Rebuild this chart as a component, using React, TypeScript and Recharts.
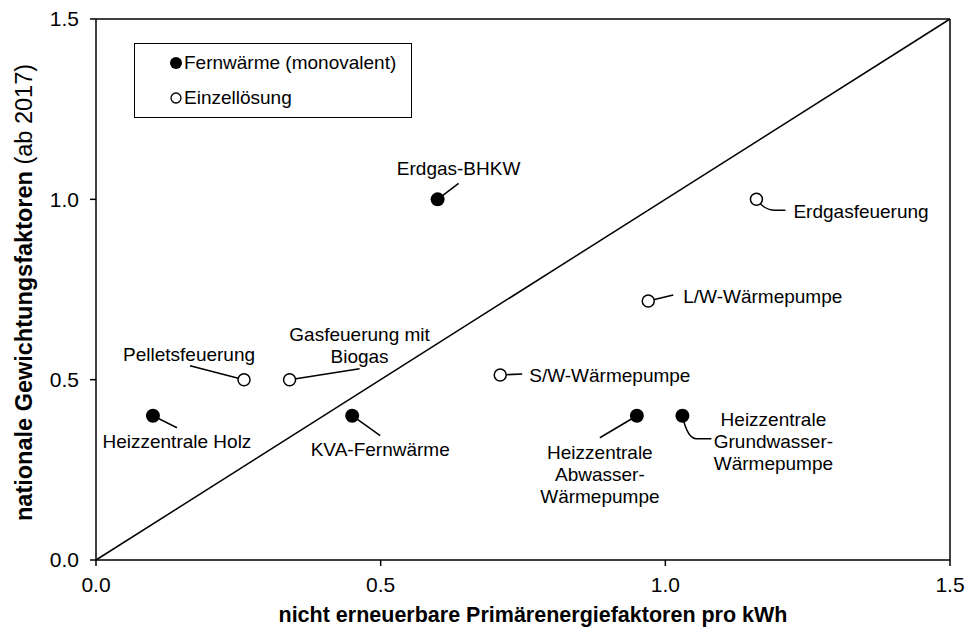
import { ScatterChart, Scatter, XAxis, YAxis, ReferenceLine } from "recharts";

// Fernwärme (monovalent) – filled markers
const fwNames = [
  "Erdgas-BHKW",
  "Heizzentrale Holz",
  "KVA-Fernwärme",
  "Heizzentrale Abwasser-Wärmepumpe",
  "Heizzentrale Grundwasser-Wärmepumpe",
];
const fwX = [0.6, 0.1, 0.45, 0.95, 1.03];
const fwY = [1.0, 0.4, 0.4, 0.4, 0.4];

// Einzellösung – open markers
const elNames = [
  "Pelletsfeuerung",
  "Gasfeuerung mit Biogas",
  "S/W-Wärmepumpe",
  "L/W-Wärmepumpe",
  "Erdgasfeuerung",
];
const elX = [0.26, 0.34, 0.71, 0.97, 1.16];
const elY = [0.5, 0.5, 0.513, 0.718, 1.0];

const axisTicks = [0, 0.5, 1.0, 1.5];

const fwData = fwNames.map((name, i) => ({ name, x: fwX[i], y: fwY[i] }));
const elData = elNames.map((name, i) => ({ name, x: elX[i], y: elY[i] }));

const FONT = "'Liberation Sans', Arial, sans-serif";

// label placement relative to the marker centre (pixels)
type Callout = { path: string; lines: string[]; dx: number; dy: number; anchor: "start" | "middle"; step?: number };
const callouts: Record<string, Callout> = {
  "Erdgas-BHKW": { path: "M0 0 L21 -16", lines: ["Erdgas-BHKW"], dx: 21, dy: -31, anchor: "middle" },
  "Heizzentrale Holz": { path: "M0 0 L24 12", lines: ["Heizzentrale Holz"], dx: 24, dy: 25, anchor: "middle" },
  "KVA-Fernwärme": { path: "M0 0 L28 20", lines: ["KVA-Fernwärme"], dx: 28, dy: 33, anchor: "middle" },
  "Heizzentrale Abwasser-Wärmepumpe": {
    path: "M0 0 L-37 22",
    lines: ["Heizzentrale", "Abwasser-", "Wärmepumpe"],
    dx: -37,
    dy: 36,
    anchor: "middle",
    step: 22,
  },
  "Heizzentrale Grundwasser-Wärmepumpe": {
    path: "M0 0 Q5 23 14 23 L29 23",
    lines: ["Heizzentrale", "Grundwasser-", "Wärmepumpe"],
    dx: 91,
    dy: 3,
    anchor: "middle",
    step: 22,
  },
  Pelletsfeuerung: { path: "M0 0 L-54 -14", lines: ["Pelletsfeuerung"], dx: -55, dy: -26, anchor: "middle" },
  "Gasfeuerung mit Biogas": {
    path: "M0 0 L70 -11",
    lines: ["Gasfeuerung mit", "Biogas"],
    dx: 70,
    dy: -46,
    anchor: "middle",
    step: 22,
  },
  "S/W-Wärmepumpe": { path: "M0 0 L22 -1", lines: ["S/W-Wärmepumpe"], dx: 29, dy: 0, anchor: "start" },
  "L/W-Wärmepumpe": { path: "M0 0 L25 -6", lines: ["L/W-Wärmepumpe"], dx: 35, dy: -5, anchor: "start" },
  Erdgasfeuerung: { path: "M0 0 Q8 11 19 11 L29 11", lines: ["Erdgasfeuerung"], dx: 37, dy: 12, anchor: "start" },
};

function makeShape(filled: boolean) {
  return (props: any) => {
    const { cx, cy, payload } = props;
    const c = callouts[payload.name];
    return (
      <g>
        {c && (
          <g transform={`translate(${cx},${cy})`}>
            <path d={c.path} fill="none" stroke="#000" strokeWidth={1.5} />
            <text
              x={c.dx}
              y={c.dy}
              textAnchor={c.anchor}
              fontFamily={FONT}
              fontSize={19}
              fill="#000"
              dominantBaseline="central"
            >
              {c.lines.map((l, i) => (
                <tspan key={i} x={c.dx} y={c.dy + i * (c.step || 0)}>
                  {l}
                </tspan>
              ))}
            </text>
          </g>
        )}
        {filled ? (
          <circle cx={cx} cy={cy} r={7} fill="#000" />
        ) : (
          <circle cx={cx} cy={cy} r={6} fill="#fff" stroke="#000" strokeWidth={1.5} />
        )}
      </g>
    );
  };
}

function LegendBox() {
  const row = (filled: boolean, text: string) => (
    <div style={{ display: "flex", alignItems: "center", height: 35 }}>
      <svg width={14} height={14} style={{ marginLeft: 34, marginRight: 1, flex: "none" }}>
        {filled ? (
          <circle cx={7} cy={7} r={6} fill="#000" />
        ) : (
          <circle cx={7} cy={7} r={5} fill="#fff" stroke="#000" strokeWidth={1.3} />
        )}
      </svg>
      <span style={{ fontFamily: FONT, fontSize: 19, color: "#000", whiteSpace: "nowrap" }}>{text}</span>
    </div>
  );
  return (
    <div
      style={{
        position: "absolute",
        left: 134,
        top: 43,
        border: "1.5px solid #000",
        width: 278,
        height: 75,
        boxSizing: "border-box",
        paddingTop: 1,
        background: "#fff",
      }}
    >
      {row(true, "Fernwärme (monovalent)")}
      {row(false, "Einzellösung")}
    </div>
  );
}

const XTitle = (props: any) => {
  const { viewBox } = props;
  return (
    <text
      x={viewBox.x + viewBox.width / 2 + 10}
      y={viewBox.y + 62}
      textAnchor="middle"
      fontFamily={FONT}
      fontSize={21.5}
      fontWeight="bold"
      fill="#000"
    >
      nicht erneuerbare Primärenergiefaktoren pro kWh
    </text>
  );
};

const YTitle = (props: any) => {
  const { viewBox } = props;
  const cx = 32;
  const cy = viewBox.y + viewBox.height / 2 + 3;
  return (
    <text
      x={cx}
      y={cy}
      transform={`rotate(-90, ${cx}, ${cy})`}
      textAnchor="middle"
      fontFamily={FONT}
      fontSize={23.5}
      fill="#000"
    >
      <tspan fontWeight="bold">nationale Gewichtungsfaktoren</tspan>
      <tspan> (ab 2017)</tspan>
    </text>
  );
};

const tickStyle = { fontFamily: FONT, fontSize: 21, fill: "#000" };

export default function App() {
  return (
    <div style={{ position: "fixed", left: 0, top: 0, width: 975, height: 628, background: "#fff" }}>
      <ScatterChart width={975} height={628} margin={{ top: 19, right: 25, left: 0, bottom: 8 }}>
        <XAxis
          type="number"
          dataKey="x"
          domain={[0, 1.5]}
          ticks={axisTicks}
          tickFormatter={(v: number) => v.toFixed(1)}
          tick={tickStyle}
          stroke="#000"
          strokeWidth={1.5}
          tickSize={6}
          tickMargin={11}
          height={60}
          label={{ content: XTitle }}
        />
        <YAxis
          type="number"
          dataKey="y"
          domain={[0, 1.5]}
          ticks={axisTicks}
          tickFormatter={(v: number) => v.toFixed(1)}
          tick={tickStyle}
          stroke="#000"
          strokeWidth={1.5}
          tickSize={6}
          tickMargin={11}
          width={96}
          label={{ content: YTitle }}
        />
        <ReferenceLine y={1.5} stroke="#000" strokeWidth={1.5} />
        <ReferenceLine x={1.5} stroke="#000" strokeWidth={1.5} />
        <ReferenceLine
          segment={[
            { x: 0, y: 0 },
            { x: 1.5, y: 1.5 },
          ]}
          stroke="#000"
          strokeWidth={1.5}
        />
        <Scatter name="Fernwärme (monovalent)" data={fwData} shape={makeShape(true)} isAnimationActive={false} />
        <Scatter name="Einzellösung" data={elData} shape={makeShape(false)} isAnimationActive={false} />
      </ScatterChart>
      <LegendBox />
    </div>
  );
}
